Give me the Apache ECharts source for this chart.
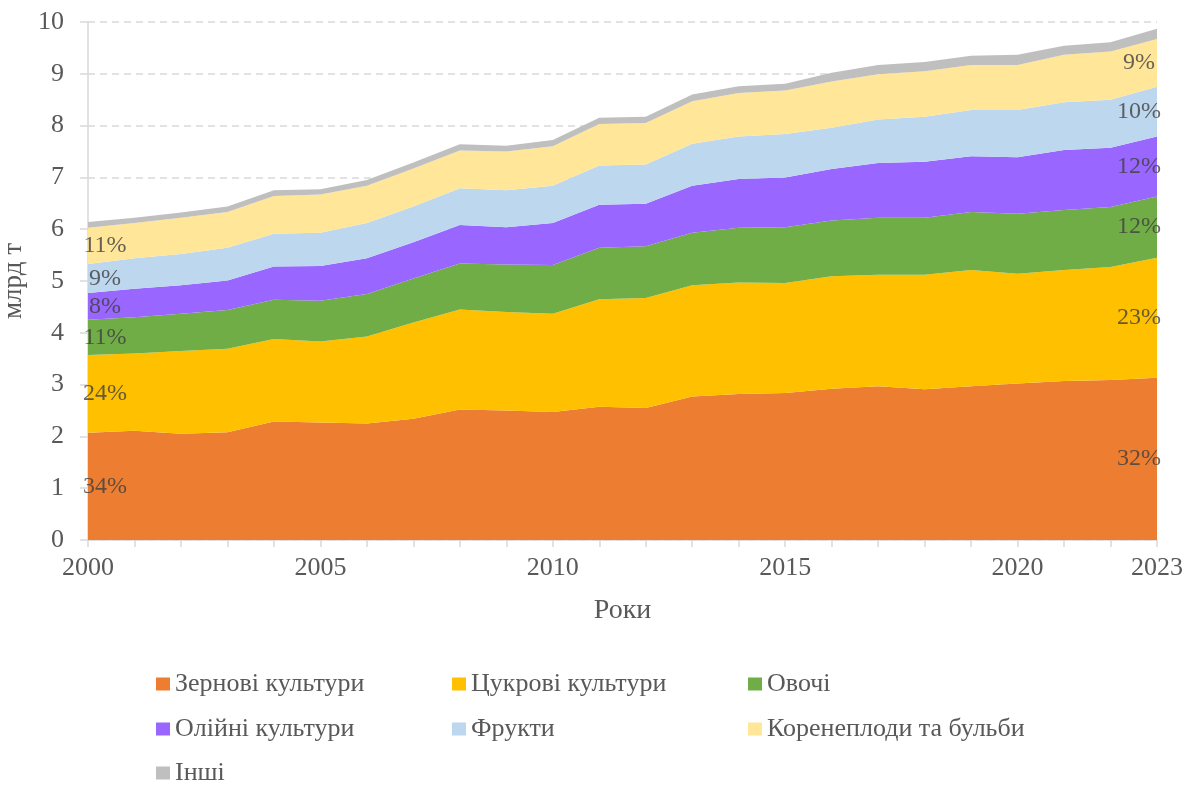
<!DOCTYPE html>
<html>
<head>
<meta charset="utf-8">
<title>Виробництво</title>
<script src="https://cdn.jsdelivr.net/npm/echarts@6/dist/echarts.min.js"></script>
<style>
    html, body { margin: 0; padding: 0; background: #fff; }
    #chart { width: 1197px; height: 785px; }
</style>
</head>
<body>
<div id="chart"></div>
<script>
// роки
var years = [];
for (var y = 2000; y <= 2023; y++) years.push(String(y));

// млрд т
var cereals = [2.07, 2.11, 2.05, 2.08, 2.29, 2.27, 2.25, 2.34, 2.52, 2.50, 2.47, 2.57, 2.55, 2.77, 2.82, 2.84, 2.92, 2.97, 2.91, 2.97, 3.02, 3.07, 3.09, 3.13];
var sugar = [1.50, 1.49, 1.60, 1.61, 1.59, 1.56, 1.68, 1.86, 1.93, 1.90, 1.90, 2.08, 2.12, 2.15, 2.15, 2.12, 2.17, 2.15, 2.21, 2.24, 2.12, 2.14, 2.18, 2.32];
var vegetables = [0.68, 0.70, 0.72, 0.75, 0.76, 0.79, 0.82, 0.85, 0.89, 0.92, 0.94, 0.99, 1.00, 1.01, 1.06, 1.08, 1.08, 1.10, 1.10, 1.12, 1.16, 1.16, 1.16, 1.18];
var oilCrops = [0.52, 0.55, 0.55, 0.57, 0.64, 0.67, 0.69, 0.70, 0.74, 0.72, 0.81, 0.83, 0.82, 0.91, 0.94, 0.96, 0.99, 1.06, 1.08, 1.08, 1.09, 1.16, 1.14, 1.16];
var fruits = [0.56, 0.59, 0.60, 0.63, 0.63, 0.64, 0.68, 0.69, 0.71, 0.71, 0.72, 0.76, 0.76, 0.81, 0.82, 0.84, 0.80, 0.84, 0.87, 0.89, 0.91, 0.92, 0.93, 0.96];
var roots = [0.70, 0.68, 0.70, 0.69, 0.73, 0.74, 0.72, 0.73, 0.73, 0.75, 0.76, 0.80, 0.80, 0.82, 0.84, 0.84, 0.89, 0.87, 0.88, 0.87, 0.87, 0.92, 0.93, 0.92];
var others = [0.11, 0.10, 0.10, 0.11, 0.11, 0.10, 0.11, 0.12, 0.12, 0.11, 0.12, 0.12, 0.12, 0.13, 0.13, 0.13, 0.17, 0.18, 0.18, 0.18, 0.20, 0.17, 0.18, 0.20];

var names = ['Зернові культури', 'Цукрові культури', 'Овочі', 'Олійні культури', 'Фрукти', 'Коренеплоди та бульби', 'Інші'];
var colors = ['#ED7D31', '#FFC000', '#70AD47', '#9966FF', '#BDD7EE', '#FFE699', '#BFBFBF'];
var values = [cereals, sugar, vegetables, oilCrops, fruits, roots, others];

// частки на початку та в кінці періоду
var shareStart = ['34%', '24%', '11%', '8%', '9%', '11%'];
var shareEnd = ['32%', '23%', '12%', '12%', '10%', '9%'];

var serifFont = '"Liberation Serif", "Times New Roman", serif';
var textColor = '#595959';

var series = [];
names.forEach(function (n, i) {
    series.push({
        name: n,
        type: 'line',
        stack: 'total',
        data: values[i],
        symbol: 'none',
        showSymbol: false,
        lineStyle: { width: 0 },
        itemStyle: { color: colors[i] },
        areaStyle: { color: colors[i], opacity: 1 },
        emphasis: { disabled: true }
    });
});

// підписи часток посередині кожної смуги
var last = years.length - 1;
var labelPts = [];
var base0 = 0, baseN = 0;
for (var i = 0; i < shareStart.length; i++) {
    labelPts.push({ value: [0, base0 + values[i][0] / 2], label: { formatter: shareStart[i], offset: [17, 0] } });
    labelPts.push({ value: [last, baseN + values[i][last] / 2], label: { formatter: shareEnd[i], offset: [-18, 0] } });
    base0 += values[i][0];
    baseN += values[i][last];
}
series.push({
    name: 'labels',
    type: 'scatter',
    symbolSize: 0,
    z: 10,
    silent: true,
    data: labelPts,
    label: {
        show: true,
        position: 'inside',
        fontFamily: serifFont,
        fontSize: 24,
        color: '#404040'
    }
});

// легенда: сітка 3 колонки, окремий компонент на кожен елемент
var legendCols = [156, 452, 748];
var legendRows = [671, 716, 760];
var legends = names.map(function (n, i) {
    return {
        orient: 'horizontal',
        left: legendCols[i % 3],
        top: legendRows[Math.floor(i / 3)],
        padding: 0,
        icon: 'rect',
        itemWidth: 14,
        itemHeight: 13,
        selectedMode: false,
        data: [n],
        textStyle: { fontFamily: serifFont, fontSize: 26, color: textColor }
    };
});

var chart = echarts.init(document.getElementById('chart'));
chart.setOption({
    backgroundColor: '#fff',
    animation: false,
    color: colors,
    grid: { left: 88, right: 40, top: 22, bottom: 245, outerBoundsMode: 'none' },
    legend: legends,
    xAxis: {
        type: 'category',
        data: years,
        boundaryGap: false,
        name: 'Роки',
        nameLocation: 'middle',
        nameGap: 57,
        nameTextStyle: { fontFamily: serifFont, fontSize: 28, color: textColor },
        axisLine: { lineStyle: { color: '#D9D9D9', width: 1.5 } },
        axisTick: { show: true, interval: 0, length: 7, lineStyle: { color: '#D9D9D9', width: 1.5 } },
        axisLabel: {
            interval: function (idx, v) { return Number(v) % 5 === 0 || idx === last; },
            margin: 15,
            fontFamily: serifFont,
            fontSize: 26,
            color: textColor
        },
        splitLine: { show: false }
    },
    yAxis: {
        type: 'value',
        min: 0,
        max: 10,
        interval: 1,
        name: 'млрд т',
        nameLocation: 'middle',
        nameGap: 56,
        nameTextStyle: { fontFamily: serifFont, fontSize: 27, color: textColor },
        axisLine: { show: true, lineStyle: { color: '#D9D9D9', width: 1.5 } },
        axisTick: { show: true, length: 8, lineStyle: { color: '#D9D9D9', width: 1.5 } },
        axisLabel: { margin: 24, fontFamily: serifFont, fontSize: 26, color: textColor },
        splitLine: { show: true, lineStyle: { color: '#D9D9D9', width: 1.5, type: [7, 5] } }
    },
    series: series
});
</script>
</body>
</html>
